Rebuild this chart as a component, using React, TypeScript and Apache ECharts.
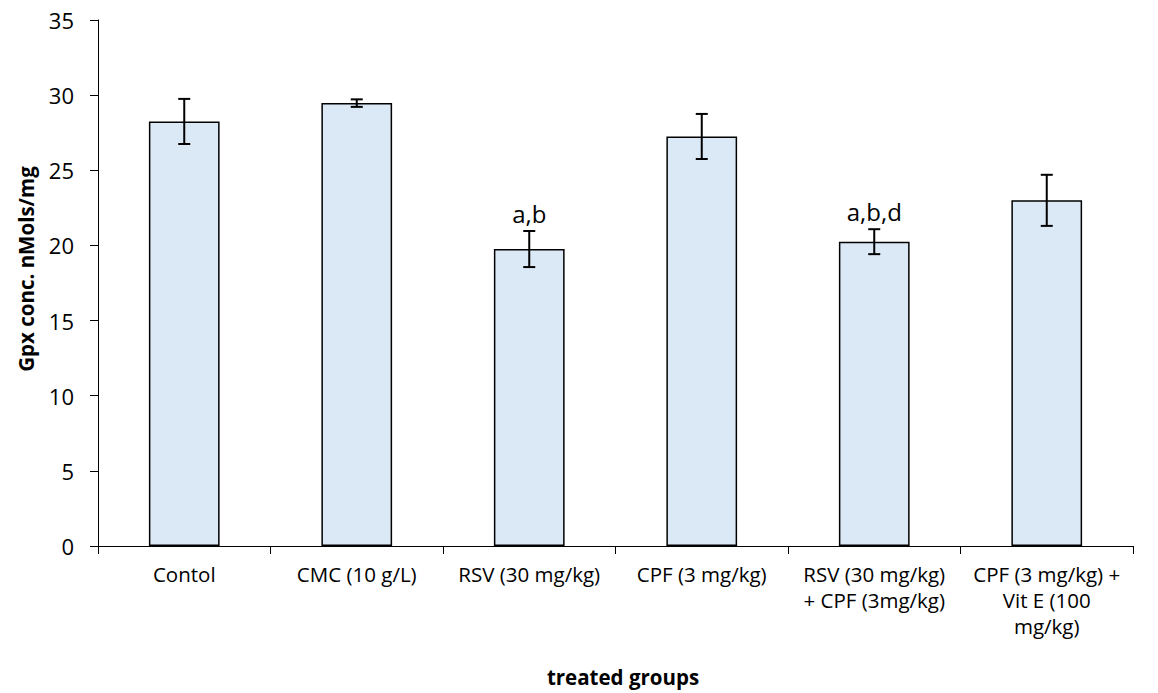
import React, { useEffect, useRef } from "react";
import * as echarts from "echarts";

const categories = [
  "Contol",
  "CMC (10 g/L)",
  "RSV (30 mg/kg)",
  "CPF (3 mg/kg)",
  "RSV (30 mg/kg)\n+ CPF (3mg/kg)",
  "CPF (3 mg/kg) +\nVit E (100\nmg/kg)",
];
const means = [28.25, 29.47, 19.76, 27.25, 20.25, 23.0];
const errors = [1.5, 0.25, 1.2, 1.5, 0.83, 1.7];
const annotations = ["", "", "a,b", "", "a,b,d", ""];
const yTicks = { min: 0, max: 35, interval: 5 };
const xTitle = "treated groups";
const yTitle = "Gpx conc. nMols/mg";

const FONT = "'Open Sans', 'Noto Sans', sans-serif";

export default function App() {
  const ref = useRef<HTMLDivElement>(null);
  useEffect(() => {
    const chart = echarts.init(ref.current!, null, { renderer: "svg" });
    const errData = means.map((m, i) => [i, m - errors[i], m + errors[i]]);
    chart.setOption({
      animation: false,
      grid: { left: 98, right: 25, top: 20, bottom: 147, containLabel: false },
      graphic: [
        {
          type: "text",
          x: 26,
          y: 269,
          rotation: Math.PI / 2,
          style: {
            text: yTitle,
            fill: "#000",
            font: `bold 20.5px ${FONT}`,
            align: "center",
            verticalAlign: "middle",
          },
        },
        {
          type: "text",
          x: 623,
          y: 677,
          style: {
            text: xTitle,
            fill: "#000",
            font: `bold 20.5px ${FONT}`,
            align: "center",
            verticalAlign: "middle",
          },
        },
      ],
      xAxis: {
        type: "category",
        data: categories,
        axisLine: { lineStyle: { color: "#000", width: 1 } },
        axisTick: { show: true, length: 8, lineStyle: { color: "#000" } },
        axisLabel: {
          interval: 0,
          fontFamily: FONT,
          fontSize: 20.5,
          color: "#000",
          lineHeight: 26,
          margin: 15,
        },
      },
      yAxis: {
        type: "value",
        min: yTicks.min,
        max: yTicks.max,
        interval: yTicks.interval,
        axisLine: { show: true, lineStyle: { color: "#000", width: 1 } },
        axisTick: { show: true, length: 8, lineStyle: { color: "#000" } },
        axisLabel: { fontFamily: FONT, fontSize: 22, color: "#000", margin: 24 },
        splitLine: { show: false },
      },
      series: [
        {
          type: "bar",
          data: means,
          barWidth: "41%",
          itemStyle: { color: "#DBE8F6", borderColor: "#000", borderWidth: 1.5 },
        },
        {
          type: "custom",
          data: errData,
          z: 10,
          renderItem: (params: any, api: any) => {
            const i = api.value(0);
            const lo = api.coord([i, api.value(1)]);
            const hi = api.coord([i, api.value(2)]);
            const half = 6;
            const ann = annotations[params.dataIndex];
            const style = { stroke: "#000", lineWidth: 2 };
            const children: any[] = [
              { type: "line", shape: { x1: lo[0], y1: lo[1], x2: hi[0], y2: hi[1] }, style },
              { type: "line", shape: { x1: lo[0] - half, y1: lo[1], x2: lo[0] + half, y2: lo[1] }, style },
              { type: "line", shape: { x1: hi[0] - half, y1: hi[1], x2: hi[0] + half, y2: hi[1] }, style },
            ];
            if (ann) {
              children.push({
                type: "text",
                x: hi[0],
                y: hi[1] - 6,
                style: {
                  text: ann,
                  fill: "#000",
                  font: `24px ${FONT}`,
                  align: "center",
                  verticalAlign: "bottom",
                },
              });
            }
            return { type: "group", children };
          },
        },
      ],
    });
    return () => chart.dispose();
  }, []);
  return <div ref={ref} style={{ width: 1158, height: 693, position: "absolute", left: 0, top: 0 }} />;
}
